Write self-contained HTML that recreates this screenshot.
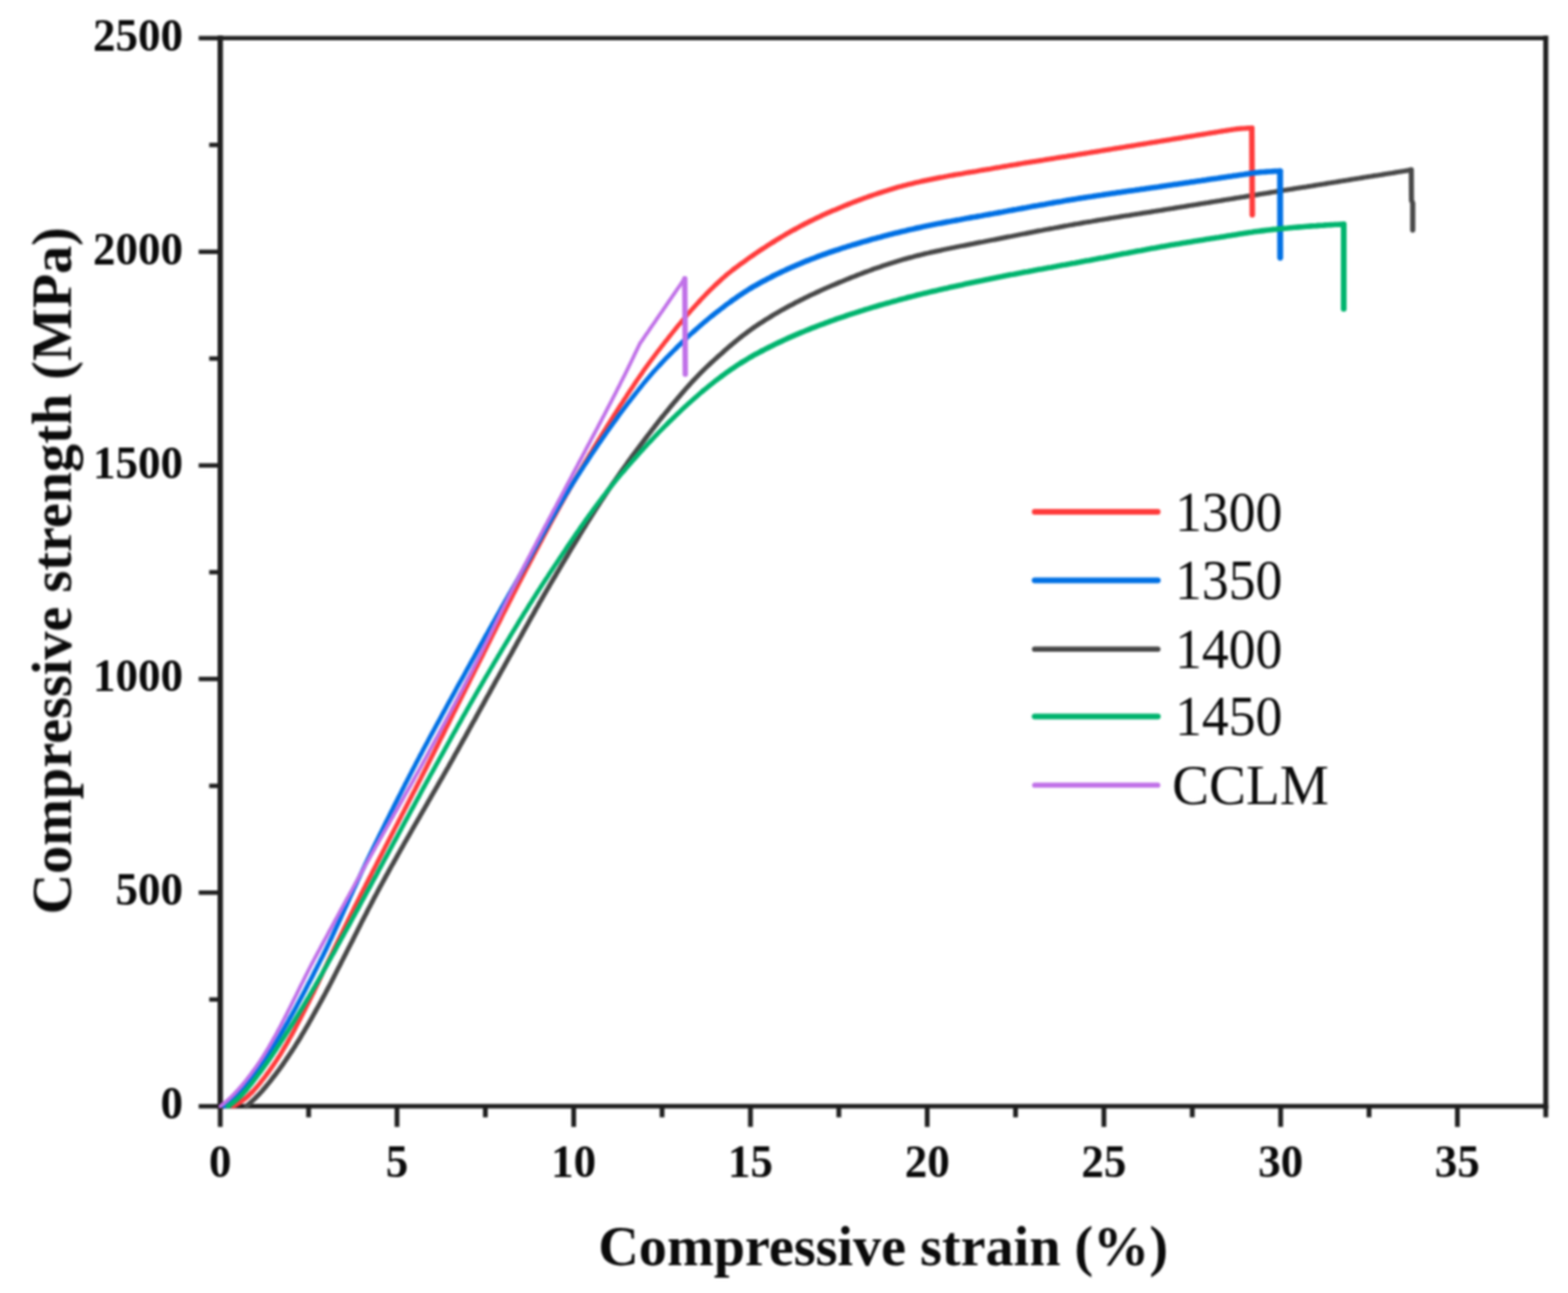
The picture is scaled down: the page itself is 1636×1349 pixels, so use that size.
<!DOCTYPE html>
<html lang="en"><head><meta charset="utf-8"><title>Compressive strength vs compressive strain</title>
<style>
html,body{margin:0;padding:0;background:#fff;}
body{width:1636px;height:1349px;overflow:hidden;}
svg{display:block;}
text{font-family:"Liberation Serif","DejaVu Serif",serif;fill:#0a0a0a;}
.tick{font-weight:bold;font-size:47px;}
.lab{font-weight:bold;font-size:58.6px;}
.leg{font-size:56px;}
</style></head><body>
<svg width="1636" height="1349" viewBox="0 0 1636 1349">
<defs><filter id="soft" x="0" y="0" width="1636" height="1349" filterUnits="userSpaceOnUse" color-interpolation-filters="sRGB"><feGaussianBlur stdDeviation="1.25"/></filter></defs>
<rect width="1636" height="1349" fill="#fff"/>
<g filter="url(#soft)">

<g stroke="#1f1f1f" fill="none" stroke-linecap="square">
<line x1="229.8" y1="39.8" x2="229.8" y2="1154.2" stroke-width="5.6"/>
<line x1="1612.8" y1="39.8" x2="1612.8" y2="1154.2" stroke-width="5.2"/>
<line x1="229.8" y1="39.8" x2="1612.8" y2="39.8" stroke-width="4.6"/>
<line x1="229.8" y1="1154.2" x2="1612.8" y2="1154.2" stroke-width="4.8"/>
</g>
<g stroke="#1f1f1f" fill="none" stroke-linecap="butt">
<line x1="229.8" y1="1154.2" x2="229.8" y2="1175.7" stroke-width="5.0"/>
<line x1="322.0" y1="1154.2" x2="322.0" y2="1165.7" stroke-width="5.0"/>
<line x1="414.2" y1="1154.2" x2="414.2" y2="1175.7" stroke-width="5.0"/>
<line x1="506.4" y1="1154.2" x2="506.4" y2="1165.7" stroke-width="5.0"/>
<line x1="598.6" y1="1154.2" x2="598.6" y2="1175.7" stroke-width="5.0"/>
<line x1="690.8" y1="1154.2" x2="690.8" y2="1165.7" stroke-width="5.0"/>
<line x1="783.0" y1="1154.2" x2="783.0" y2="1175.7" stroke-width="5.0"/>
<line x1="875.2" y1="1154.2" x2="875.2" y2="1165.7" stroke-width="5.0"/>
<line x1="967.4" y1="1154.2" x2="967.4" y2="1175.7" stroke-width="5.0"/>
<line x1="1059.6" y1="1154.2" x2="1059.6" y2="1165.7" stroke-width="5.0"/>
<line x1="1151.8" y1="1154.2" x2="1151.8" y2="1175.7" stroke-width="5.0"/>
<line x1="1244.0" y1="1154.2" x2="1244.0" y2="1165.7" stroke-width="5.0"/>
<line x1="1336.2" y1="1154.2" x2="1336.2" y2="1175.7" stroke-width="5.0"/>
<line x1="1428.4" y1="1154.2" x2="1428.4" y2="1165.7" stroke-width="5.0"/>
<line x1="1520.6" y1="1154.2" x2="1520.6" y2="1175.7" stroke-width="5.0"/>
<line x1="1612.8" y1="1154.2" x2="1612.8" y2="1165.7" stroke-width="5.0"/>
<line x1="229.8" y1="1154.2" x2="207.3" y2="1154.2" stroke-width="4.6"/>
<line x1="229.8" y1="1042.8" x2="218.3" y2="1042.8" stroke-width="4.6"/>
<line x1="229.8" y1="931.3" x2="207.3" y2="931.3" stroke-width="4.6"/>
<line x1="229.8" y1="819.9" x2="218.3" y2="819.9" stroke-width="4.6"/>
<line x1="229.8" y1="708.4" x2="207.3" y2="708.4" stroke-width="4.6"/>
<line x1="229.8" y1="597.0" x2="218.3" y2="597.0" stroke-width="4.6"/>
<line x1="229.8" y1="485.6" x2="207.3" y2="485.6" stroke-width="4.6"/>
<line x1="229.8" y1="374.1" x2="218.3" y2="374.1" stroke-width="4.6"/>
<line x1="229.8" y1="262.7" x2="207.3" y2="262.7" stroke-width="4.6"/>
<line x1="229.8" y1="151.2" x2="218.3" y2="151.2" stroke-width="4.6"/>
<line x1="229.8" y1="39.8" x2="207.3" y2="39.8" stroke-width="4.6"/>
</g>
<clipPath id="plot"><rect x="226.8" y="39.8" width="1386.0" height="1116.8"/></clipPath>
<g fill="none" stroke-linejoin="round" stroke-linecap="round" clip-path="url(#plot)">
<path d="M257.0,1154.2 L258.9,1152.6 L260.8,1150.9 L262.6,1149.2 L264.4,1147.5 L266.3,1145.8 L268.0,1144.0 L269.8,1142.3 L271.5,1140.4 L273.2,1138.6 L274.8,1136.7 L276.4,1134.8 L278.0,1132.9 L279.6,1131.0 L281.2,1129.0 L282.8,1127.1 L284.3,1125.1 L285.8,1123.1 L287.4,1121.1 L288.9,1119.1 L290.4,1117.1 L291.8,1115.1 L293.3,1113.0 L294.8,1111.0 L296.2,1108.9 L297.6,1106.9 L299.0,1104.8 L300.4,1102.8 L301.8,1100.7 L303.2,1098.6 L304.6,1096.5 L305.9,1094.5 L307.3,1092.4 L308.6,1090.3 L309.9,1088.1 L311.3,1086.0 L312.6,1083.9 L313.9,1081.7 L315.1,1079.6 L316.4,1077.4 L317.7,1075.3 L319.0,1073.1 L320.2,1071.0 L321.5,1068.8 L322.7,1066.6 L323.9,1064.4 L325.2,1062.2 L326.4,1060.1 L327.6,1057.9 L328.8,1055.7 L330.0,1053.5 L331.3,1051.3 L332.5,1049.1 L333.7,1046.9 L334.9,1044.7 L336.1,1042.5 L337.3,1040.3 L338.5,1038.1 L339.7,1035.9 L340.8,1033.7 L342.0,1031.5 L343.2,1029.3 L344.3,1027.1 L345.5,1024.9 L346.6,1022.7 L347.8,1020.4 L348.9,1018.2 L350.0,1016.0 L351.2,1013.7 L352.3,1011.5 L353.4,1009.3 L354.6,1007.1 L355.7,1004.8 L356.8,1002.6 L358.0,1000.4 L359.1,998.2 L360.3,995.9 L361.4,993.7 L362.5,991.5 L363.7,989.2 L364.8,987.0 L365.9,984.8 L367.1,982.6 L368.2,980.3 L369.3,978.1 L370.4,975.9 L371.6,973.6 L372.7,971.4 L373.8,969.2 L375.0,966.9 L376.1,964.7 L377.2,962.5 L378.3,960.2 L379.5,958.0 L380.6,955.8 L381.8,953.6 L382.9,951.3 L384.0,949.1 L385.2,946.9 L386.4,944.7 L387.5,942.5 L388.7,940.3 L389.8,938.0 L391.0,935.8 L392.2,933.6 L393.4,931.4 L394.5,929.2 L395.7,927.0 L396.9,924.8 L398.1,922.6 L399.3,920.4 L400.5,918.2 L401.7,916.0 L402.9,913.8 L404.1,911.7 L405.3,909.5 L406.5,907.3 L407.7,905.1 L408.9,902.9 L410.2,900.7 L411.4,898.5 L412.6,896.4 L413.8,894.2 L415.0,892.0 L416.3,889.8 L417.5,887.6 L418.7,885.5 L420.0,883.3 L421.2,881.1 L422.4,878.9 L423.7,876.8 L424.9,874.6 L426.2,872.4 L427.4,870.3 L428.7,868.1 L429.9,865.9 L431.1,863.8 L432.4,861.6 L433.6,859.4 L434.9,857.3 L436.1,855.1 L437.4,852.9 L438.6,850.8 L439.9,848.6 L441.1,846.4 L442.4,844.3 L443.6,842.1 L444.9,839.9 L446.1,837.8 L447.3,835.6 L448.6,833.4 L449.8,831.3 L451.1,829.1 L452.3,826.9 L453.6,824.8 L454.8,822.6 L456.1,820.4 L457.3,818.3 L458.6,816.1 L459.8,813.9 L461.1,811.8 L462.3,809.6 L463.5,807.4 L464.8,805.2 L466.0,803.1 L467.3,800.9 L468.5,798.7 L469.7,796.5 L470.9,794.4 L472.2,792.2 L473.4,790.0 L474.6,787.8 L475.8,785.6 L477.1,783.5 L478.3,781.3 L479.5,779.1 L480.7,776.9 L481.9,774.7 L483.1,772.5 L484.4,770.4 L485.6,768.2 L486.8,766.0 L488.0,763.8 L489.2,761.6 L490.4,759.4 L491.6,757.2 L492.8,755.1 L494.0,752.9 L495.3,750.7 L496.5,748.5 L497.7,746.3 L498.9,744.1 L500.1,741.9 L501.3,739.7 L502.5,737.5 L503.7,735.4 L504.9,733.2 L506.1,731.0 L507.3,728.8 L508.5,726.6 L509.8,724.4 L511.0,722.2 L512.2,720.0 L513.4,717.8 L514.6,715.7 L515.8,713.5 L517.0,711.3 L518.2,709.1 L519.5,706.9 L520.7,704.7 L521.9,702.6 L523.1,700.4 L524.3,698.2 L525.6,696.0 L526.8,693.8 L528.0,691.6 L529.2,689.5 L530.4,687.3 L531.6,685.1 L532.9,682.9 L534.1,680.7 L535.3,678.5 L536.5,676.3 L537.7,674.2 L538.9,672.0 L540.1,669.8 L541.4,667.6 L542.6,665.4 L543.8,663.2 L545.0,661.0 L546.2,658.8 L547.4,656.7 L548.6,654.5 L549.9,652.3 L551.1,650.1 L552.3,647.9 L553.5,645.7 L554.7,643.6 L556.0,641.4 L557.2,639.2 L558.4,637.0 L559.6,634.8 L560.9,632.7 L562.1,630.5 L563.3,628.3 L564.6,626.2 L565.8,624.0 L567.1,621.8 L568.3,619.6 L569.6,617.5 L570.8,615.3 L572.1,613.2 L573.3,611.0 L574.6,608.8 L575.8,606.7 L577.1,604.5 L578.4,602.4 L579.7,600.2 L580.9,598.1 L582.2,595.9 L583.5,593.8 L584.8,591.6 L586.0,589.5 L587.3,587.3 L588.6,585.2 L589.9,583.0 L591.2,580.9 L592.5,578.7 L593.7,576.6 L595.0,574.4 L596.3,572.3 L597.6,570.2 L598.9,568.0 L600.2,565.9 L601.5,563.7 L602.8,561.6 L604.1,559.4 L605.4,557.3 L606.7,555.2 L608.0,553.0 L609.3,550.9 L610.7,548.8 L612.0,546.6 L613.3,544.5 L614.6,542.4 L616.0,540.3 L617.3,538.2 L618.6,536.0 L620.0,533.9 L621.3,531.8 L622.7,529.7 L624.0,527.6 L625.4,525.5 L626.7,523.4 L628.1,521.3 L629.5,519.3 L630.9,517.2 L632.2,515.1 L633.6,513.0 L635.0,510.9 L636.4,508.9 L637.8,506.8 L639.2,504.8 L640.6,502.7 L642.1,500.7 L643.5,498.6 L644.9,496.6 L646.4,494.5 L647.8,492.5 L649.2,490.5 L650.7,488.4 L652.1,486.4 L653.6,484.4 L655.0,482.3 L656.5,480.3 L658.0,478.3 L659.4,476.3 L660.9,474.2 L662.4,472.2 L663.9,470.2 L665.4,468.2 L666.9,466.2 L668.4,464.2 L669.9,462.2 L671.4,460.2 L672.9,458.2 L674.4,456.2 L675.9,454.2 L677.5,452.2 L679.0,450.2 L680.5,448.2 L682.1,446.2 L683.6,444.2 L685.2,442.3 L686.7,440.3 L688.3,438.3 L689.8,436.4 L691.4,434.4 L693.0,432.5 L694.6,430.5 L696.2,428.6 L697.7,426.7 L699.3,424.7 L700.9,422.8 L702.5,420.9 L704.1,419.0 L705.8,417.1 L707.4,415.2 L709.0,413.3 L710.6,411.4 L712.3,409.5 L713.9,407.6 L715.6,405.7 L717.2,403.9 L718.9,402.0 L720.5,400.2 L722.2,398.3 L723.9,396.5 L725.6,394.7 L727.3,392.9 L729.1,391.1 L730.8,389.3 L732.6,387.5 L734.4,385.7 L736.2,384.0 L738.0,382.3 L739.8,380.6 L741.6,378.9 L743.5,377.2 L745.3,375.5 L747.2,373.8 L749.0,372.1 L750.9,370.5 L752.8,368.8 L754.7,367.1 L756.5,365.4 L758.4,363.8 L760.3,362.2 L762.3,360.5 L764.2,358.9 L766.1,357.3 L768.1,355.7 L770.0,354.1 L772.0,352.5 L773.9,351.0 L775.9,349.4 L777.9,347.9 L779.9,346.4 L781.9,345.0 L783.9,343.5 L785.9,342.1 L788.0,340.7 L790.0,339.3 L792.1,337.9 L794.2,336.6 L796.2,335.3 L798.3,333.9 L800.5,332.6 L802.6,331.3 L804.7,330.0 L806.9,328.7 L809.0,327.4 L811.2,326.2 L813.4,324.9 L815.5,323.7 L817.7,322.5 L819.9,321.2 L822.1,320.0 L824.4,318.8 L826.6,317.7 L828.8,316.5 L831.0,315.3 L833.3,314.2 L835.5,313.0 L837.8,311.9 L840.0,310.8 L842.3,309.7 L844.6,308.6 L846.8,307.5 L849.1,306.5 L851.3,305.4 L853.6,304.4 L855.9,303.3 L858.2,302.3 L860.4,301.3 L862.7,300.3 L865.0,299.3 L867.3,298.3 L869.5,297.3 L871.8,296.4 L874.1,295.4 L876.4,294.4 L878.8,293.5 L881.1,292.5 L883.4,291.5 L885.7,290.6 L888.0,289.7 L890.4,288.7 L892.7,287.8 L895.0,286.9 L897.4,286.0 L899.7,285.1 L902.1,284.2 L904.4,283.3 L906.8,282.5 L909.2,281.6 L911.5,280.7 L913.9,279.9 L916.3,279.1 L918.6,278.3 L921.0,277.4 L923.4,276.6 L925.8,275.9 L928.1,275.1 L930.5,274.3 L932.9,273.6 L935.3,272.8 L937.7,272.1 L940.1,271.4 L942.5,270.7 L944.9,270.0 L947.3,269.3 L949.7,268.7 L952.1,268.1 L954.5,267.4 L956.9,266.8 L959.3,266.2 L961.7,265.6 L964.1,265.0 L966.5,264.4 L969.0,263.9 L971.4,263.3 L973.8,262.8 L976.3,262.2 L978.7,261.7 L981.2,261.2 L983.6,260.6 L986.1,260.1 L988.5,259.6 L991.0,259.1 L993.4,258.6 L995.9,258.1 L998.3,257.6 L1000.8,257.1 L1003.2,256.6 L1005.7,256.2 L1008.2,255.7 L1010.6,255.2 L1013.1,254.7 L1015.6,254.3 L1018.0,253.8 L1020.5,253.3 L1022.9,252.8 L1025.4,252.4 L1027.9,251.9 L1030.3,251.4 L1032.8,250.9 L1035.2,250.4 L1037.7,250.0 L1040.1,249.5 L1042.6,249.0 L1045.0,248.5 L1047.5,248.0 L1049.9,247.5 L1052.4,247.0 L1054.8,246.6 L1057.3,246.1 L1059.8,245.6 L1062.2,245.1 L1064.7,244.6 L1067.1,244.1 L1069.6,243.7 L1072.0,243.2 L1074.5,242.7 L1076.9,242.2 L1079.4,241.8 L1081.8,241.3 L1084.3,240.8 L1086.8,240.4 L1089.2,239.9 L1091.7,239.4 L1094.1,239.0 L1096.6,238.5 L1099.0,238.1 L1101.5,237.6 L1104.0,237.2 L1106.4,236.7 L1108.9,236.3 L1111.3,235.8 L1113.8,235.4 L1116.3,234.9 L1118.7,234.5 L1121.2,234.0 L1123.6,233.6 L1126.1,233.2 L1128.6,232.7 L1131.0,232.3 L1133.5,231.9 L1136.0,231.5 L1138.4,231.1 L1140.9,230.6 L1143.4,230.2 L1145.8,229.8 L1148.3,229.4 L1150.8,229.0 L1153.2,228.6 L1155.7,228.2 L1158.2,227.8 L1160.6,227.4 L1163.1,227.0 L1165.6,226.6 L1168.0,226.2 L1170.5,225.8 L1173.0,225.4 L1175.4,225.0 L1177.9,224.7 L1180.4,224.3 L1182.8,223.9 L1185.3,223.5 L1187.8,223.1 L1190.3,222.7 L1192.7,222.3 L1195.2,221.9 L1197.7,221.6 L1200.1,221.2 L1202.6,220.8 L1205.1,220.4 L1207.5,220.0 L1210.0,219.6 L1212.5,219.2 L1215.0,218.8 L1217.4,218.4 L1219.9,218.0 L1222.4,217.6 L1224.8,217.2 L1227.3,216.8 L1229.8,216.4 L1232.2,216.0 L1234.7,215.6 L1237.2,215.2 L1239.6,214.8 L1242.1,214.4 L1244.6,214.0 L1247.0,213.6 L1249.5,213.2 L1252.0,212.8 L1254.4,212.4 L1256.9,212.0 L1259.4,211.6 L1261.8,211.2 L1264.3,210.8 L1266.8,210.4 L1269.2,210.0 L1271.7,209.6 L1274.2,209.2 L1276.6,208.8 L1279.1,208.4 L1281.6,208.0 L1284.0,207.6 L1286.5,207.2 L1289.0,206.8 L1291.5,206.4 L1293.9,206.0 L1296.4,205.6 L1298.9,205.2 L1301.3,204.8 L1303.8,204.4 L1306.3,204.0 L1308.7,203.6 L1311.2,203.2 L1313.7,202.8 L1316.1,202.4 L1318.6,202.0 L1321.1,201.6 L1323.5,201.2 L1326.0,200.8 L1328.5,200.4 L1330.9,200.0 L1333.4,199.6 L1335.9,199.2 L1338.3,198.8 L1340.8,198.4 L1343.3,198.0 L1345.7,197.6 L1348.2,197.2 L1350.7,196.8 L1353.2,196.4 L1355.6,196.0 L1358.1,195.6 L1360.6,195.2 L1363.0,194.9 L1365.5,194.5 L1368.0,194.1 L1370.4,193.7 L1372.9,193.3 L1375.4,192.9 L1377.8,192.5 L1380.3,192.1 L1382.8,191.7 L1385.2,191.3 L1387.7,190.9 L1390.2,190.5 L1392.6,190.1 L1395.1,189.7 L1397.6,189.3 L1400.0,188.9 L1402.5,188.5 L1405.0,188.1 L1407.5,187.7 L1409.9,187.3 L1412.4,186.9 L1414.9,186.5 L1417.3,186.1 L1419.8,185.7 L1422.3,185.3 L1424.7,184.9 L1427.2,184.5 L1429.7,184.1 L1432.1,183.7 L1434.6,183.3 L1437.1,183.0 L1439.5,182.6 L1442.0,182.2 L1444.5,181.8 L1446.9,181.4 L1449.4,181.0 L1451.9,180.6 L1454.4,180.2 L1456.8,179.8 L1459.3,179.4 L1461.8,179.0 L1464.2,178.6 L1466.7,178.2 L1469.2,177.8 L1471.6,177.3 L1472.5,177.2" stroke="#484848" stroke-width="5.00"/>
<path d="M1472.5,177.2 L1472.7,209.0 L1474.0,212.0 L1474.0,240.0" stroke="#484848" stroke-width="5.4"/>
<path d="M243.0,1154.2 L245.2,1153.0 L247.4,1151.8 L249.6,1150.5 L251.6,1149.1 L253.7,1147.7 L255.6,1146.2 L257.6,1144.6 L259.4,1142.9 L261.2,1141.1 L263.0,1139.4" stroke="#ff3b3b" stroke-width="5.00"/>
<path d="M263.0,1139.4 L264.7,1137.6 L266.4,1135.7 L268.1,1133.9 L269.7,1131.9 L271.3,1130.0 L272.8,1128.0 L274.4,1126.1 L275.9,1124.1 L277.4,1122.1 L278.9,1120.1" stroke="#ff3b3b" stroke-width="4.72"/>
<path d="M278.9,1120.1 L280.4,1118.1 L281.8,1116.0 L283.3,1114.0 L284.7,1111.9 L286.1,1109.9 L287.5,1107.8 L288.9,1105.7 L290.2,1103.6 L291.6,1101.5 L292.9,1099.4 L294.2,1097.2 L295.5,1095.1 L296.7,1093.0 L298.0,1090.8 L299.3,1088.7 L300.5,1086.5 L301.7,1084.3 L303.0,1082.1 L304.2,1080.0 L305.4,1077.8 L306.6,1075.6 L307.8,1073.4 L308.9,1071.1 L310.1,1068.9 L311.3,1066.7 L312.4,1064.5 L313.6,1062.3 L314.7,1060.0 L315.9,1057.8 L317.0,1055.6 L318.2,1053.4 L319.3,1051.1 L320.4,1048.9 L321.6,1046.7 L322.7,1044.4 L323.8,1042.2 L324.9,1039.9 L326.0,1037.7 L327.2,1035.5 L328.2,1033.2 L329.3,1031.0 L330.4,1028.7 L331.5,1026.5 L332.5,1024.2 L333.6,1021.9 L334.6,1019.7 L335.7,1017.4 L336.8,1015.1 L337.8,1012.9 L338.9,1010.6 L339.9,1008.3 L341.0,1006.1 L342.0,1003.8 L343.1,1001.5 L344.2,999.3 L345.3,997.0 L346.4,994.8 L347.4,992.5 L348.5,990.3 L349.6,988.0 L350.7,985.8 L351.8,983.5 L352.9,981.3 L354.0,979.0 L355.1,976.8 L356.2,974.5 L357.3,972.3 L358.4,970.0 L359.5,967.8 L360.6,965.5 L361.7,963.3 L362.8,961.1 L363.9,958.8 L365.0,956.6 L366.1,954.3 L367.2,952.1 L368.3,949.9 L369.4,947.6 L370.5,945.4 L371.7,943.1 L372.8,940.9 L373.9,938.7 L375.0,936.4 L376.1,934.2 L377.3,932.0 L378.4,929.7 L379.5,927.5 L380.7,925.3 L381.8,923.1 L382.9,920.8 L384.1,918.6 L385.2,916.4 L386.4,914.2 L387.5,911.9 L388.6,909.7 L389.8,907.5 L390.9,905.3 L392.1,903.0 L393.2,900.8 L394.3,898.6 L395.5,896.4 L396.6,894.1 L397.8,891.9 L398.9,889.7 L400.1,887.5 L401.2,885.2 L402.3,883.0 L403.5,880.8 L404.6,878.6 L405.8,876.4 L406.9,874.1 L408.1,871.9 L409.2,869.7 L410.4,867.5 L411.5,865.3 L412.7,863.0 L413.8,860.8 L415.0,858.6 L416.1,856.4 L417.3,854.2 L418.4,851.9 L419.6,849.7 L420.7,847.5 L421.9,845.3 L423.0,843.1 L424.2,840.8 L425.3,838.6 L426.5,836.4 L427.6,834.2 L428.8,832.0 L429.9,829.7 L431.1,827.5 L432.2,825.3 L433.4,823.1 L434.5,820.9 L435.7,818.6 L436.8,816.4 L438.0,814.2 L439.1,812.0 L440.2,809.7 L441.4,807.5 L442.5,805.3 L443.6,803.1 L444.8,800.8 L445.9,798.6 L447.0,796.4 L448.2,794.1 L449.3,791.9 L450.4,789.7 L451.6,787.4 L452.7,785.2 L453.8,783.0 L454.9,780.7 L456.1,778.5 L457.2,776.3 L458.3,774.0 L459.4,771.8 L460.5,769.6 L461.7,767.3 L462.8,765.1 L463.9,762.9 L465.0,760.6 L466.1,758.4 L467.3,756.2 L468.4,753.9 L469.5,751.7 L470.6,749.5 L471.7,747.2 L472.8,745.0 L473.9,742.7 L475.1,740.5 L476.2,738.3 L477.3,736.0 L478.4,733.8 L479.5,731.6 L480.6,729.3 L481.8,727.1 L482.9,724.8 L484.0,722.6 L485.1,720.4 L486.2,718.1 L487.4,715.9 L488.5,713.7 L489.6,711.4 L490.7,709.2 L491.8,707.0 L493.0,704.7 L494.1,702.5 L495.2,700.3 L496.3,698.0 L497.4,695.8 L498.6,693.6 L499.7,691.3 L500.8,689.1 L501.9,686.9 L503.1,684.6 L504.2,682.4 L505.3,680.1 L506.4,677.9 L507.5,675.7 L508.6,673.4 L509.8,671.2 L510.9,669.0 L512.0,666.7 L513.1,664.5 L514.2,662.3 L515.4,660.0 L516.5,657.8 L517.6,655.5 L518.7,653.3 L519.8,651.1 L521.0,648.8 L522.1,646.6 L523.2,644.4 L524.3,642.1 L525.4,639.9 L526.6,637.7 L527.7,635.4 L528.8,633.2 L530.0,631.0 L531.1,628.8 L532.2,626.5 L533.4,624.3 L534.5,622.1 L535.6,619.8 L536.8,617.6 L537.9,615.4 L539.1,613.2 L540.2,611.0 L541.4,608.7 L542.5,606.5 L543.7,604.3 L544.8,602.1 L546.0,599.9 L547.1,597.7 L548.3,595.4 L549.4,593.2 L550.6,591.0 L551.8,588.8 L552.9,586.6 L554.1,584.4 L555.3,582.2 L556.4,579.9 L557.6,577.7 L558.8,575.5 L559.9,573.3 L561.1,571.1 L562.3,568.9 L563.4,566.7 L564.6,564.5 L565.8,562.2 L567.0,560.0 L568.1,557.8 L569.3,555.6 L570.5,553.4 L571.7,551.2 L572.9,549.0 L574.0,546.8 L575.2,544.6 L576.4,542.4 L577.6,540.2 L578.8,538.0 L580.0,535.8 L581.2,533.6 L582.4,531.4 L583.6,529.3 L584.8,527.1 L586.1,524.9 L587.3,522.7 L588.5,520.5 L589.7,518.3 L590.9,516.2 L592.2,514.0 L593.4,511.8 L594.6,509.6 L595.9,507.5 L597.1,505.3 L598.4,503.1 L599.6,501.0 L600.9,498.8 L602.1,496.7 L603.4,494.5 L604.6,492.3 L605.9,490.2 L607.2,488.0 L608.4,485.9 L609.7,483.7 L611.0,481.6 L612.3,479.4 L613.6,477.3 L614.8,475.1 L616.1,473.0 L617.4,470.9 L618.7,468.7 L620.0,466.6 L621.3,464.4 L622.6,462.3 L623.9,460.2 L625.2,458.0 L626.5,455.9 L627.8,453.8 L629.2,451.6 L630.5,449.5 L631.8,447.4 L633.1,445.3 L634.5,443.1 L635.8,441.0 L637.1,438.9 L638.5,436.8 L639.8,434.7 L641.1,432.6 L642.5,430.5 L643.8,428.4 L645.2,426.3 L646.5,424.1 L647.9,422.0 L649.3,420.0 L650.6,417.9 L652.0,415.8 L653.4,413.7 L654.7,411.6 L656.1,409.5 L657.5,407.4 L658.9,405.3 L660.3,403.3 L661.6,401.2 L663.0,399.1 L664.4,397.0 L665.8,395.0 L667.3,392.9 L668.7,390.8 L670.1,388.8 L671.5,386.7 L673.0,384.7 L674.4,382.6 L675.9,380.6 L677.3,378.6 L678.8,376.6 L680.3,374.6 L681.8,372.6 L683.3,370.6 L684.8,368.6 L686.3,366.6 L687.9,364.6 L689.4,362.7 L690.9,360.7 L692.5,358.7 L694.0,356.7 L695.6,354.8 L697.1,352.8 L698.7,350.8 L700.2,348.9 L701.8,346.9 L703.4,344.9 L704.9,343.0 L706.5,341.0 L708.1,339.1 L709.7,337.2 L711.3,335.2 L712.9,333.3 L714.6,331.4 L716.2,329.5 L717.8,327.6 L719.5,325.7 L721.1,323.8 L722.8,321.9 L724.4,320.1 L726.1,318.2 L727.8,316.4 L729.5,314.5" stroke="#ff3b3b" stroke-width="4.70"/>
<path d="M729.5,314.5 L731.2,312.7 L732.9,310.9 L734.6,309.1 L736.3,307.3 L738.1,305.5 L739.8,303.8 L741.6,302.0 L743.4,300.3 L745.2,298.5 L747.0,296.8" stroke="#ff3b3b" stroke-width="4.78"/>
<path d="M747.0,296.8 L748.8,295.1 L750.7,293.4 L752.5,291.7 L754.4,290.0 L756.3,288.4 L758.2,286.7 L760.1,285.1 L762.1,283.6 L764.0,282.0 L766.0,280.5" stroke="#ff3b3b" stroke-width="4.90"/>
<path d="M766.0,280.5 L768.0,279.0 L770.0,277.6 L772.0,276.1 L774.0,274.6 L776.0,273.2 L778.0,271.7 L780.0,270.3 L782.1,268.8 L784.1,267.4 L786.2,266.0" stroke="#ff3b3b" stroke-width="5.04"/>
<path d="M786.2,266.0 L788.3,264.5 L790.4,263.1 L792.5,261.7 L794.5,260.3 L796.7,259.0 L798.8,257.6 L800.9,256.2 L803.0,254.8 L805.1,253.5 L807.3,252.2" stroke="#ff3b3b" stroke-width="5.10"/>
<path d="M807.3,252.2 L809.4,250.8 L811.6,249.5 L813.7,248.2 L815.9,246.9 L818.1,245.6 L820.2,244.3 L822.4,243.1 L824.6,241.8 L826.8,240.6 L829.0,239.4" stroke="#ff3b3b" stroke-width="5.16"/>
<path d="M829.0,239.4 L831.2,238.2 L833.4,237.0 L835.6,235.8 L837.8,234.6 L840.1,233.4 L842.3,232.3 L844.5,231.2 L846.7,230.1 L849.0,229.0 L851.2,227.9 L853.4,226.8 L855.7,225.8 L857.9,224.7 L860.2,223.7 L862.4,222.7 L864.7,221.7 L867.0,220.7 L869.2,219.7 L871.5,218.8 L873.8,217.8 L876.1,216.8 L878.4,215.9 L880.7,214.9 L883.0,214.0 L885.4,213.0 L887.7,212.1 L890.0,211.2 L892.4,210.3 L894.7,209.4 L897.1,208.5 L899.5,207.6 L901.8,206.7 L904.2,205.9 L906.6,205.0 L908.9,204.2 L911.3,203.4 L913.7,202.6 L916.1,201.8 L918.5,201.0 L920.9,200.2 L923.3,199.4 L925.7,198.7 L928.1,197.9 L930.5,197.2 L932.9,196.5 L935.3,195.8 L937.7,195.1 L940.1,194.5 L942.5,193.8 L944.9,193.2 L947.3,192.6 L949.7,192.0 L952.1,191.4 L954.5,190.8 L957.0,190.2 L959.4,189.7 L961.8,189.1 L964.2,188.6 L966.7,188.1 L969.1,187.6 L971.6,187.1 L974.0,186.6 L976.5,186.1 L978.9,185.6 L981.4,185.1 L983.8,184.7 L986.3,184.2 L988.7,183.8 L991.2,183.3 L993.7,182.9 L996.1,182.4 L998.6,182.0 L1001.1,181.6 L1003.6,181.2 L1006.0,180.7 L1008.5,180.3 L1011.0,179.9 L1013.5,179.5 L1015.9,179.1 L1018.4,178.7 L1020.9,178.2 L1023.3,177.8 L1025.8,177.4 L1028.3,177.0 L1030.8,176.6 L1033.2,176.2 L1035.7,175.7 L1038.2,175.3 L1040.6,174.9 L1043.1,174.5 L1045.5,174.0 L1048.0,173.6 L1050.5,173.2 L1052.9,172.8 L1055.4,172.4 L1057.9,172.0 L1060.3,171.6 L1062.8,171.1 L1065.3,170.7 L1067.7,170.3 L1070.2,169.9 L1072.7,169.5 L1075.1,169.1 L1077.6,168.7 L1080.1,168.4 L1082.6,168.0 L1085.0,167.6 L1087.5,167.2 L1090.0,166.8 L1092.4,166.4 L1094.9,166.0 L1097.4,165.6 L1099.8,165.2 L1102.3,164.8 L1104.8,164.4 L1107.2,164.0 L1109.7,163.6 L1112.2,163.3 L1114.7,162.9 L1117.1,162.5 L1119.6,162.1 L1122.1,161.7 L1124.5,161.3 L1127.0,160.9 L1129.5,160.5 L1131.9,160.1 L1134.4,159.7 L1136.9,159.3 L1139.3,158.9 L1141.8,158.5 L1144.3,158.1 L1146.7,157.7 L1149.2,157.3 L1151.7,156.9 L1154.1,156.5 L1156.6,156.1 L1159.1,155.7 L1161.5,155.3 L1164.0,154.9 L1166.5,154.5 L1168.9,154.1 L1171.4,153.7 L1173.9,153.3 L1176.3,152.9 L1178.8,152.5 L1181.3,152.1 L1183.8,151.7 L1186.2,151.3 L1188.7,150.9 L1191.2,150.5 L1193.6,150.1 L1196.1,149.7 L1198.6,149.3 L1201.0,148.9 L1203.5,148.5 L1206.0,148.1 L1208.4,147.7 L1210.9,147.3 L1213.4,146.9 L1215.8,146.5 L1218.3,146.1 L1220.8,145.7 L1223.2,145.3 L1225.7,144.9 L1228.2,144.5 L1230.6,144.1 L1233.1,143.7 L1235.6,143.3 L1238.0,142.9 L1240.5,142.5 L1243.0,142.1 L1245.5,141.7 L1247.9,141.3 L1250.4,140.9 L1252.9,140.5 L1255.3,140.1 L1257.8,139.7 L1260.3,139.3 L1262.7,138.9 L1265.2,138.5 L1267.7,138.1 L1270.1,137.7 L1272.6,137.3 L1275.1,136.9 L1277.5,136.5 L1280.0,136.1 L1282.5,135.7 L1284.9,135.3 L1287.4,135.0 L1289.9,134.7 L1292.4,134.4 L1294.9,134.2 L1297.4,134.0 L1299.9,133.8 L1302.4,133.7 L1304.9,133.6 L1306.1,133.6" stroke="#ff3b3b" stroke-width="5.20"/>
<path d="M1306.1,133.6 L1306.6,224.1" stroke="#ff3b3b" stroke-width="5.8"/>
<path d="M234.4,1154.2 L236.5,1152.8 L238.5,1151.2 L240.4,1149.7 L242.4,1148.1 L244.2,1146.5 L246.0,1144.8 L247.8,1143.0 L249.5,1141.2 L251.2,1139.3 L252.9,1137.5" stroke="#0070e4" stroke-width="5.04"/>
<path d="M252.9,1137.5 L254.5,1135.6 L256.1,1133.6 L257.7,1131.7 L259.2,1129.7 L260.7,1127.7 L262.2,1125.7 L263.7,1123.7 L265.2,1121.7 L266.7,1119.7 L268.1,1117.7" stroke="#0070e4" stroke-width="4.71"/>
<path d="M268.1,1117.7 L269.6,1115.6 L271.1,1113.6 L272.5,1111.5 L273.9,1109.5 L275.3,1107.4 L276.7,1105.3 L278.1,1103.2 L279.4,1101.1 L280.8,1099.0 L282.1,1096.9 L283.4,1094.8 L284.7,1092.7 L286.0,1090.6 L287.3,1088.4 L288.6,1086.3 L289.9,1084.2 L291.2,1082.0 L292.5,1079.9 L293.7,1077.7 L295.0,1075.5 L296.2,1073.4 L297.5,1071.2 L298.7,1069.0 L300.0,1066.9 L301.2,1064.7 L302.4,1062.5 L303.6,1060.3 L304.9,1058.1 L306.1,1055.9 L307.3,1053.8 L308.5,1051.6 L309.7,1049.4 L310.9,1047.2 L312.1,1044.9 L313.3,1042.7 L314.4,1040.5 L315.6,1038.3 L316.8,1036.1 L318.0,1033.9 L319.1,1031.7 L320.3,1029.5 L321.4,1027.2 L322.6,1025.0 L323.8,1022.8 L324.9,1020.6 L326.1,1018.3 L327.2,1016.1 L328.3,1013.9 L329.5,1011.7 L330.6,1009.4 L331.8,1007.2 L332.9,1005.0 L334.0,1002.8 L335.1,1000.5 L336.3,998.3 L337.4,996.1 L338.5,993.8 L339.6,991.6 L340.7,989.4 L341.8,987.1 L342.9,984.9 L343.9,982.6 L345.0,980.3 L346.1,978.1 L347.1,975.8 L348.2,973.6 L349.2,971.3 L350.3,969.0 L351.3,966.8 L352.4,964.5 L353.4,962.2 L354.5,959.9 L355.5,957.7 L356.5,955.4 L357.6,953.1 L358.6,950.8 L359.6,948.5 L360.7,946.3 L361.7,944.0 L362.7,941.7 L363.8,939.4 L364.8,937.1 L365.8,934.9 L366.9,932.6 L367.9,930.3 L368.9,928.0 L370.0,925.8 L371.0,923.5 L372.1,921.2 L373.1,918.9 L374.1,916.7 L375.2,914.4 L376.3,912.1 L377.3,909.9 L378.4,907.6 L379.5,905.4 L380.5,903.1 L381.6,900.8 L382.7,898.6 L383.8,896.3 L384.9,894.1 L386.0,891.8 L387.1,889.6 L388.2,887.4 L389.3,885.1 L390.4,882.9 L391.5,880.6 L392.6,878.4 L393.7,876.1 L394.8,873.9 L395.9,871.6 L397.0,869.4 L398.1,867.2 L399.2,864.9 L400.3,862.7 L401.4,860.4 L402.5,858.2 L403.7,856.0 L404.8,853.7 L405.9,851.5 L407.0,849.2 L408.1,847.0 L409.3,844.8 L410.4,842.5 L411.5,840.3 L412.6,838.1 L413.8,835.8 L414.9,833.6 L416.0,831.4 L417.2,829.2 L418.3,826.9 L419.4,824.7 L420.6,822.5 L421.7,820.3 L422.8,818.0 L424.0,815.8 L425.1,813.6 L426.3,811.4 L427.4,809.1 L428.6,806.9 L429.7,804.7 L430.9,802.5 L432.0,800.3 L433.2,798.1 L434.3,795.8 L435.5,793.6 L436.7,791.4 L437.8,789.2 L439.0,787.0 L440.2,784.8 L441.3,782.6 L442.5,780.4 L443.7,778.2 L444.9,776.0 L446.1,773.8 L447.2,771.6 L448.4,769.4 L449.6,767.2 L450.8,765.0 L452.0,762.8 L453.2,760.6 L454.4,758.4 L455.6,756.2 L456.8,754.0 L458.0,751.8 L459.2,749.6 L460.4,747.4 L461.6,745.2 L462.8,743.0 L464.0,740.8 L465.2,738.6 L466.4,736.4 L467.6,734.2 L468.8,732.0 L470.0,729.8 L471.2,727.7 L472.4,725.5 L473.6,723.3 L474.8,721.1 L476.0,718.9 L477.2,716.7 L478.4,714.5 L479.6,712.3 L480.9,710.1 L482.1,708.0 L483.3,705.8 L484.5,703.6 L485.7,701.4 L486.9,699.2 L488.1,697.0 L489.3,694.8 L490.5,692.6 L491.7,690.5 L492.9,688.3 L494.2,686.1 L495.4,683.9 L496.6,681.7 L497.8,679.5 L499.0,677.3 L500.2,675.1 L501.4,673.0 L502.7,670.8 L503.9,668.6 L505.1,666.4 L506.3,664.2 L507.5,662.0 L508.8,659.9 L510.0,657.7 L511.2,655.5 L512.4,653.3 L513.6,651.1 L514.9,649.0 L516.1,646.8 L517.3,644.6 L518.5,642.4 L519.8,640.2 L521.0,638.1 L522.2,635.9 L523.4,633.7 L524.7,631.5 L525.9,629.4 L527.1,627.2 L528.4,625.0 L529.6,622.8 L530.8,620.6 L532.1,618.5 L533.3,616.3 L534.5,614.1 L535.8,611.9 L537.0,609.8 L538.2,607.6 L539.5,605.4 L540.7,603.3 L541.9,601.1 L543.2,598.9 L544.4,596.7 L545.6,594.6 L546.9,592.4 L548.1,590.2 L549.3,588.0 L550.5,585.8 L551.8,583.7 L553.0,581.5 L554.2,579.3 L555.4,577.1 L556.7,574.9 L557.9,572.7 L559.1,570.5 L560.3,568.4 L561.5,566.2 L562.8,564.0 L564.0,561.8 L565.2,559.6 L566.4,557.4 L567.7,555.3 L568.9,553.1 L570.1,550.9 L571.4,548.7 L572.6,546.5 L573.8,544.4 L575.1,542.2 L576.3,540.0 L577.6,537.9 L578.8,535.7 L580.1,533.5 L581.3,531.4 L582.6,529.2 L583.9,527.1 L585.1,524.9 L586.4,522.8 L587.7,520.6 L589.0,518.5 L590.3,516.3 L591.6,514.2 L592.9,512.1 L594.2,509.9 L595.5,507.8 L596.8,505.7 L598.1,503.6 L599.5,501.5 L600.8,499.4 L602.2,497.3 L603.5,495.2 L604.9,493.1 L606.2,491.0 L607.6,488.9 L608.9,486.8 L610.3,484.7 L611.7,482.6 L613.1,480.6 L614.4,478.5 L615.8,476.4 L617.2,474.3 L618.6,472.2 L620.0,470.1 L621.4,468.1 L622.8,466.0 L624.2,463.9 L625.6,461.8 L627.1,459.8 L628.5,457.7 L629.9,455.7 L631.3,453.6 L632.8,451.5 L634.2,449.5 L635.7,447.4 L637.1,445.4 L638.6,443.4 L640.0,441.3 L641.5,439.3 L643.0,437.3 L644.5,435.2 L645.9,433.2 L647.4,431.2 L648.9,429.2 L650.4,427.2 L651.9,425.2 L653.4,423.2 L654.9,421.2 L656.4,419.2 L658.0,417.2 L659.5,415.2 L661.0,413.3 L662.6,411.3 L664.1,409.4 L665.7,407.4 L667.2,405.4 L668.8,403.5 L670.3,401.6 L671.9,399.6 L673.5,397.7 L675.1,395.8 L676.7,393.9 L678.3,392.0 L680.0,390.1 L681.6,388.2 L683.3,386.4 L685.0,384.5 L686.7,382.7 L688.4,380.8" stroke="#0070e4" stroke-width="4.70"/>
<path d="M688.4,380.8 L690.1,379.0 L691.8,377.2 L693.5,375.3 L695.2,373.5 L697.0,371.8 L698.7,370.0 L700.5,368.2 L702.3,366.4 L704.0,364.7 L705.8,362.9" stroke="#0070e4" stroke-width="4.84"/>
<path d="M705.8,362.9 L707.6,361.1 L709.4,359.4 L711.2,357.6 L713.0,355.9 L714.8,354.2 L716.6,352.4 L718.4,350.7 L720.3,349.0 L722.1,347.3 L724.0,345.6" stroke="#0070e4" stroke-width="4.94"/>
<path d="M724.0,345.6 L725.8,344.0 L727.7,342.3 L729.6,340.6 L731.5,339.0 L733.4,337.4 L735.3,335.8 L737.2,334.2 L739.1,332.6 L741.0,331.0 L743.0,329.5" stroke="#0070e4" stroke-width="5.11"/>
<path d="M743.0,329.5 L744.9,327.9 L746.9,326.4 L748.9,324.8 L750.9,323.3 L752.8,321.8 L754.8,320.3 L756.9,318.7 L758.9,317.2 L760.9,315.8 L762.9,314.3" stroke="#0070e4" stroke-width="5.28"/>
<path d="M762.9,314.3 L765.0,312.8 L767.0,311.4 L769.1,309.9 L771.2,308.5 L773.3,307.1 L775.4,305.7 L777.5,304.4 L779.6,303.0 L781.7,301.7 L783.8,300.4" stroke="#0070e4" stroke-width="5.49"/>
<path d="M783.8,300.4 L785.9,299.1 L788.1,297.9 L790.2,296.7 L792.4,295.5 L794.6,294.3 L796.8,293.1 L799.0,292.0 L801.2,290.8 L803.4,289.7 L805.6,288.5" stroke="#0070e4" stroke-width="5.67"/>
<path d="M805.6,288.5 L807.8,287.4 L810.1,286.3 L812.3,285.2 L814.6,284.1 L816.9,283.0 L819.2,282.0 L821.4,280.9 L823.7,279.9 L826.0,278.8 L828.3,277.8 L830.6,276.8 L833.0,275.8 L835.3,274.9 L837.6,273.9 L839.9,272.9 L842.2,272.0 L844.6,271.1 L846.9,270.2 L849.3,269.3 L851.6,268.4 L853.9,267.5 L856.3,266.6 L858.6,265.8 L860.9,265.0 L863.3,264.1 L865.6,263.3 L868.0,262.5 L870.3,261.7 L872.7,260.9 L875.1,260.2 L877.4,259.4 L879.8,258.6 L882.2,257.9 L884.6,257.1 L887.0,256.4 L889.4,255.6 L891.8,254.9 L894.2,254.2 L896.6,253.5 L899.0,252.7 L901.4,252.1 L903.8,251.4 L906.2,250.7 L908.6,250.0 L911.0,249.3 L913.5,248.7 L915.9,248.0 L918.3,247.4 L920.7,246.7 L923.2,246.1 L925.6,245.4 L928.0,244.8 L930.4,244.2 L932.9,243.6 L935.3,243.0 L937.7,242.4 L940.2,241.8 L942.6,241.2 L945.0,240.7 L947.5,240.1 L949.9,239.5 L952.3,239.0 L954.7,238.4 L957.2,237.9 L959.6,237.4 L962.1,236.8 L964.5,236.3 L966.9,235.8 L969.4,235.3 L971.8,234.8 L974.3,234.3 L976.7,233.8 L979.2,233.3 L981.6,232.9 L984.1,232.4 L986.6,231.9 L989.0,231.4 L991.5,231.0 L993.9,230.5 L996.4,230.1 L998.9,229.6 L1001.3,229.2 L1003.8,228.7 L1006.2,228.3 L1008.7,227.8 L1011.2,227.4 L1013.6,226.9 L1016.1,226.5 L1018.6,226.1 L1021.0,225.6 L1023.5,225.2 L1026.0,224.7 L1028.4,224.3 L1030.9,223.9 L1033.3,223.4 L1035.8,223.0 L1038.3,222.5 L1040.7,222.1 L1043.2,221.6 L1045.6,221.2 L1048.1,220.7 L1050.6,220.3 L1053.0,219.8 L1055.5,219.4 L1057.9,218.9 L1060.4,218.5 L1062.9,218.0 L1065.3,217.6 L1067.8,217.1 L1070.2,216.7 L1072.7,216.2 L1075.2,215.8 L1077.6,215.3 L1080.1,214.9 L1082.5,214.5 L1085.0,214.0 L1087.5,213.6 L1089.9,213.2 L1092.4,212.7 L1094.8,212.3 L1097.3,211.9 L1099.8,211.4 L1102.2,211.0 L1104.7,210.6 L1107.2,210.2 L1109.6,209.7 L1112.1,209.3 L1114.6,208.9 L1117.0,208.5 L1119.5,208.1 L1122.0,207.7 L1124.4,207.3 L1126.9,206.9 L1129.4,206.5 L1131.8,206.1 L1134.3,205.7 L1136.8,205.3 L1139.2,205.0 L1141.7,204.6 L1144.2,204.2 L1146.7,203.8 L1149.1,203.5 L1151.6,203.1 L1154.1,202.7 L1156.5,202.4 L1159.0,202.0 L1161.5,201.6 L1164.0,201.3 L1166.4,200.9 L1168.9,200.6 L1171.4,200.2 L1173.9,199.9 L1176.3,199.5 L1178.8,199.2 L1181.3,198.8 L1183.8,198.5 L1186.2,198.1 L1188.7,197.8 L1191.2,197.4 L1193.7,197.1 L1196.1,196.7 L1198.6,196.4 L1201.1,196.0 L1203.6,195.7 L1206.1,195.3 L1208.5,195.0 L1211.0,194.6 L1213.5,194.2 L1215.9,193.9 L1218.4,193.5 L1220.9,193.2 L1223.4,192.8 L1225.8,192.4 L1228.3,192.1 L1230.8,191.7 L1233.3,191.4 L1235.7,191.0 L1238.2,190.6 L1240.7,190.3 L1243.2,189.9 L1245.6,189.6 L1248.1,189.2 L1250.6,188.8 L1253.1,188.5 L1255.5,188.1 L1258.0,187.8 L1260.5,187.4 L1263.0,187.0 L1265.4,186.7 L1267.9,186.3 L1270.4,186.0 L1272.8,185.6 L1275.3,185.2 L1277.8,184.9 L1280.3,184.5 L1282.7,184.1 L1285.2,183.8 L1287.7,183.4 L1290.2,183.1 L1292.6,182.7 L1295.1,182.3 L1297.6,182.0 L1300.1,181.6 L1302.5,181.2 L1305.0,180.8 L1307.5,180.5 L1310.0,180.2 L1312.4,180.0 L1314.9,179.7 L1317.4,179.5 L1319.9,179.3 L1322.4,179.1 L1324.9,179.0 L1327.4,178.8 L1329.9,178.7 L1332.4,178.6 L1334.9,178.6 L1335.6,178.6" stroke="#0070e4" stroke-width="5.70"/>
<path d="M1335.6,178.6 L1335.7,268.8" stroke="#0070e4" stroke-width="6.2"/>
<path d="M238.0,1154.2 L240.1,1152.8 L242.1,1151.3 L244.1,1149.7 L246.0,1148.1 L247.9,1146.5 L249.7,1144.8 L251.5,1143.1 L253.2,1141.3 L254.9,1139.4 L256.6,1137.6" stroke="#00b46e" stroke-width="5.02"/>
<path d="M256.6,1137.6 L258.2,1135.7 L259.8,1133.8 L261.4,1131.8 L263.0,1129.9 L264.5,1127.9 L266.0,1125.9 L267.5,1123.9 L269.0,1121.9 L270.5,1119.9 L272.0,1117.9" stroke="#00b46e" stroke-width="4.71"/>
<path d="M272.0,1117.9 L273.5,1115.9 L275.0,1113.9 L276.4,1111.8 L277.9,1109.8 L279.3,1107.8 L280.8,1105.7 L282.2,1103.6 L283.6,1101.6 L285.0,1099.5 L286.4,1097.4 L287.8,1095.4 L289.1,1093.3 L290.5,1091.2 L291.9,1089.1 L293.2,1087.0 L294.6,1084.9 L296.0,1082.8 L297.3,1080.7 L298.6,1078.6 L300.0,1076.5 L301.3,1074.4 L302.6,1072.2 L304.0,1070.1 L305.3,1068.0 L306.6,1065.9 L307.9,1063.7 L309.2,1061.6 L310.5,1059.5 L311.8,1057.3 L313.1,1055.2 L314.4,1053.0 L315.7,1050.9 L317.0,1048.7 L318.3,1046.6 L319.5,1044.5 L320.8,1042.3 L322.1,1040.2 L323.4,1038.0 L324.6,1035.9 L325.9,1033.7 L327.1,1031.5 L328.4,1029.4 L329.6,1027.2 L330.9,1025.0 L332.1,1022.8 L333.3,1020.7 L334.6,1018.5 L335.8,1016.3 L337.0,1014.1 L338.2,1011.9 L339.4,1009.8 L340.7,1007.6 L341.9,1005.4 L343.1,1003.2 L344.3,1001.0 L345.5,998.8 L346.7,996.7 L348.0,994.5 L349.2,992.3 L350.4,990.1 L351.6,987.9 L352.8,985.7 L354.0,983.5 L355.2,981.4 L356.4,979.2 L357.6,977.0 L358.8,974.8 L360.0,972.6 L361.3,970.4 L362.5,968.2 L363.7,966.0 L364.9,963.8 L366.1,961.6 L367.3,959.4 L368.5,957.2 L369.7,955.0 L370.9,952.9 L372.1,950.7 L373.3,948.5 L374.5,946.3 L375.6,944.1 L376.8,941.9 L378.0,939.7 L379.2,937.5 L380.4,935.3 L381.6,933.1 L382.8,930.9 L384.0,928.7 L385.2,926.5 L386.4,924.3 L387.6,922.1 L388.8,919.9 L390.0,917.7 L391.2,915.5 L392.4,913.3 L393.6,911.1 L394.7,908.9 L395.9,906.7 L397.1,904.5 L398.3,902.3 L399.5,900.1 L400.7,897.9 L401.9,895.7 L403.1,893.5 L404.3,891.3 L405.5,889.1 L406.7,887.0 L407.8,884.8 L409.0,882.6 L410.2,880.4 L411.4,878.2 L412.6,876.0 L413.8,873.8 L415.0,871.6 L416.2,869.4 L417.4,867.2 L418.6,865.0 L419.7,862.8 L420.9,860.6 L422.1,858.4 L423.3,856.2 L424.5,854.0 L425.7,851.8 L426.9,849.6 L428.1,847.4 L429.3,845.2 L430.5,843.0 L431.7,840.8 L432.9,838.6 L434.1,836.4 L435.3,834.2 L436.5,832.0 L437.7,829.8 L438.8,827.6 L440.0,825.4 L441.2,823.2 L442.4,821.0 L443.6,818.8 L444.8,816.6 L446.0,814.5 L447.2,812.3 L448.4,810.1 L449.6,807.9 L450.9,805.7 L452.1,803.5 L453.3,801.3 L454.5,799.1 L455.7,796.9 L456.9,794.8 L458.1,792.6 L459.3,790.4 L460.6,788.2 L461.8,786.0 L463.0,783.8 L464.2,781.6 L465.4,779.5 L466.6,777.3 L467.8,775.1 L469.1,772.9 L470.3,770.7 L471.5,768.5 L472.7,766.4 L473.9,764.2 L475.2,762.0 L476.4,759.8 L477.6,757.6 L478.8,755.5 L480.1,753.3 L481.3,751.1 L482.5,748.9 L483.7,746.7 L485.0,744.6 L486.2,742.4 L487.4,740.2 L488.7,738.0 L489.9,735.9 L491.1,733.7 L492.4,731.5 L493.6,729.3 L494.9,727.2 L496.1,725.0 L497.4,722.8 L498.6,720.7 L499.9,718.5 L501.1,716.4 L502.4,714.2 L503.6,712.0 L504.9,709.9 L506.1,707.7 L507.4,705.6 L508.7,703.4 L509.9,701.3 L511.2,699.1 L512.5,696.9 L513.8,694.8 L515.0,692.6 L516.3,690.5 L517.6,688.3 L518.9,686.2 L520.1,684.0 L521.4,681.9 L522.7,679.7 L524.0,677.6 L525.3,675.4 L526.5,673.3 L527.8,671.2 L529.1,669.0 L530.4,666.9 L531.7,664.7 L533.0,662.6 L534.3,660.4 L535.6,658.3 L536.9,656.2 L538.2,654.0 L539.5,651.9 L540.8,649.7 L542.1,647.6 L543.4,645.5 L544.7,643.4 L546.0,641.2 L547.3,639.1 L548.7,637.0 L550.0,634.9 L551.3,632.7 L552.6,630.6 L554.0,628.5 L555.3,626.4 L556.6,624.3 L558.0,622.2 L559.3,620.0 L560.7,617.9 L562.0,615.8 L563.4,613.7 L564.7,611.6 L566.1,609.5 L567.4,607.5 L568.8,605.4 L570.2,603.3 L571.6,601.2 L572.9,599.1 L574.3,597.0 L575.7,594.9 L577.1,592.9 L578.4,590.8 L579.8,588.7 L581.2,586.6 L582.6,584.5 L584.0,582.4 L585.4,580.3 L586.8,578.2 L588.2,576.2 L589.6,574.1 L590.9,572.0 L592.3,569.9 L593.7,567.8 L595.2,565.7 L596.6,563.7 L598.0,561.6 L599.4,559.5 L600.8,557.4 L602.2,555.4 L603.7,553.3 L605.1,551.2 L606.5,549.2 L608.0,547.1 L609.4,545.1 L610.8,543.0 L612.3,541.0 L613.8,538.9 L615.2,536.9 L616.7,534.9 L618.2,532.8 L619.6,530.8 L621.1,528.8 L622.6,526.8 L624.1,524.8 L625.6,522.8 L627.1,520.8 L628.6,518.8 L630.1,516.9 L631.7,514.9 L633.2,512.9 L634.7,511.0 L636.3,509.0 L637.8,507.1 L639.4,505.2 L641.0,503.2 L642.6,501.3 L644.1,499.4 L645.7,497.5 L647.3,495.6 L648.9,493.7 L650.6,491.9 L652.2,490.0 L653.8,488.1 L655.4,486.2 L657.1,484.3 L658.7,482.4 L660.4,480.5 L662.0,478.6" stroke="#00b46e" stroke-width="4.70"/>
<path d="M662.0,478.6 L663.7,476.8 L665.4,474.9 L667.0,473.0 L668.7,471.2 L670.4,469.3 L672.1,467.4 L673.8,465.6 L675.5,463.7 L677.2,461.9 L678.9,460.0" stroke="#00b46e" stroke-width="4.77"/>
<path d="M678.9,460.0 L680.7,458.2 L682.4,456.4 L684.1,454.5 L685.9,452.7 L687.6,450.9 L689.4,449.1 L691.2,447.3 L692.9,445.5 L694.7,443.7 L696.5,441.9" stroke="#00b46e" stroke-width="4.82"/>
<path d="M696.5,441.9 L698.3,440.1 L700.1,438.4 L701.9,436.6 L703.7,434.9 L705.5,433.1 L707.3,431.4 L709.1,429.7 L710.9,427.9 L712.8,426.2 L714.6,424.5" stroke="#00b46e" stroke-width="4.90"/>
<path d="M714.6,424.5 L716.5,422.8 L718.3,421.1 L720.2,419.5 L722.0,417.8 L723.9,416.1 L725.8,414.5 L727.7,412.9 L729.5,411.2 L731.4,409.6 L733.3,408.0" stroke="#00b46e" stroke-width="5.01"/>
<path d="M733.3,408.0 L735.2,406.4 L737.1,404.9 L739.1,403.3 L741.0,401.7 L742.9,400.2 L744.8,398.7 L746.8,397.1 L748.8,395.6 L750.8,394.1 L752.8,392.6" stroke="#00b46e" stroke-width="5.16"/>
<path d="M752.8,392.6 L754.8,391.1 L756.8,389.7 L758.8,388.2 L760.9,386.8 L763.0,385.3 L765.1,383.9 L767.2,382.5 L769.3,381.1 L771.4,379.7 L773.5,378.4" stroke="#00b46e" stroke-width="5.37"/>
<path d="M773.5,378.4 L775.6,377.1 L777.8,375.8 L779.9,374.5 L782.1,373.2 L784.2,372.0 L786.4,370.7 L788.5,369.5 L790.7,368.4 L792.9,367.2 L795.1,366.0" stroke="#00b46e" stroke-width="5.55"/>
<path d="M795.1,366.0 L797.3,364.9 L799.5,363.7 L801.8,362.6 L804.0,361.5 L806.2,360.4 L808.5,359.3 L810.7,358.2 L813.0,357.1 L815.3,356.1 L817.6,355.0 L819.8,354.0 L822.1,352.9 L824.4,351.9 L826.7,350.9 L829.0,349.9 L831.3,348.9 L833.7,347.9 L836.0,346.9 L838.3,346.0 L840.6,345.0 L842.9,344.1 L845.3,343.1 L847.6,342.2 L849.9,341.3 L852.3,340.4 L854.6,339.5 L856.9,338.6 L859.3,337.8 L861.6,336.9 L863.9,336.1 L866.3,335.2 L868.6,334.4 L871.0,333.5 L873.3,332.7 L875.7,331.9 L878.0,331.1 L880.4,330.3 L882.8,329.5 L885.1,328.7 L887.5,327.9 L889.9,327.1 L892.3,326.4 L894.7,325.6 L897.1,324.8 L899.4,324.1 L901.8,323.3 L904.2,322.6 L906.6,321.9 L909.0,321.1 L911.4,320.4 L913.8,319.7 L916.2,319.0 L918.6,318.3 L921.1,317.6 L923.5,316.9 L925.9,316.2 L928.3,315.6 L930.7,314.9 L933.1,314.2 L935.5,313.6 L937.9,312.9 L940.3,312.2 L942.8,311.6 L945.2,311.0 L947.6,310.3 L950.0,309.7 L952.4,309.1 L954.8,308.5 L957.3,307.8 L959.7,307.2 L962.1,306.6 L964.5,306.0 L967.0,305.5 L969.4,304.9 L971.8,304.3 L974.3,303.7 L976.7,303.2 L979.1,302.6 L981.6,302.0 L984.0,301.5 L986.4,300.9 L988.9,300.4 L991.3,299.8 L993.8,299.3 L996.2,298.8 L998.7,298.2 L1001.1,297.7 L1003.5,297.2 L1006.0,296.6 L1008.4,296.1 L1010.9,295.6 L1013.3,295.1 L1015.8,294.6 L1018.2,294.1 L1020.7,293.6 L1023.1,293.1 L1025.6,292.5 L1028.0,292.0 L1030.5,291.5 L1032.9,291.0 L1035.4,290.5 L1037.8,290.0 L1040.3,289.5 L1042.7,289.0 L1045.2,288.6 L1047.6,288.1 L1050.1,287.6 L1052.5,287.1 L1055.0,286.6 L1057.4,286.2 L1059.9,285.7 L1062.4,285.2 L1064.8,284.8 L1067.3,284.3 L1069.7,283.8 L1072.2,283.4 L1074.6,282.9 L1077.1,282.5 L1079.6,282.0 L1082.0,281.6 L1084.5,281.1 L1086.9,280.7 L1089.4,280.2 L1091.9,279.8 L1094.3,279.3 L1096.8,278.9 L1099.2,278.4 L1101.7,278.0 L1104.2,277.5 L1106.6,277.1 L1109.1,276.6 L1111.5,276.2 L1114.0,275.7 L1116.5,275.3 L1118.9,274.8 L1121.4,274.4 L1123.8,273.9 L1126.3,273.5 L1128.8,273.0 L1131.2,272.6 L1133.7,272.1 L1136.1,271.7 L1138.6,271.2 L1141.0,270.7 L1143.5,270.3 L1146.0,269.8 L1148.4,269.3 L1150.9,268.9 L1153.3,268.4 L1155.8,267.9 L1158.2,267.4 L1160.7,267.0 L1163.1,266.5 L1165.6,266.0 L1168.1,265.6 L1170.5,265.1 L1173.0,264.6 L1175.4,264.2 L1177.9,263.7 L1180.3,263.2 L1182.8,262.8 L1185.3,262.3 L1187.7,261.8 L1190.2,261.4 L1192.6,260.9 L1195.1,260.5 L1197.5,260.0 L1200.0,259.6 L1202.5,259.1 L1204.9,258.7 L1207.4,258.2 L1209.8,257.8 L1212.3,257.3 L1214.8,256.9 L1217.2,256.5 L1219.7,256.1 L1222.1,255.6 L1224.6,255.2 L1227.1,254.8 L1229.5,254.4 L1232.0,254.0 L1234.5,253.6 L1236.9,253.2 L1239.4,252.8 L1241.9,252.4 L1244.3,252.0 L1246.8,251.6 L1249.3,251.2 L1251.7,250.8 L1254.2,250.4 L1256.7,250.0 L1259.2,249.6 L1261.6,249.2 L1264.1,248.8 L1266.6,248.4 L1269.0,248.0 L1271.5,247.7 L1274.0,247.3 L1276.4,246.9 L1278.9,246.5 L1281.4,246.1 L1283.9,245.7 L1286.3,245.3 L1288.8,244.9 L1291.3,244.5 L1293.7,244.1 L1296.2,243.7 L1298.7,243.3 L1301.1,242.9 L1303.6,242.5 L1306.1,242.2 L1308.5,241.8 L1311.0,241.5 L1313.5,241.2 L1316.0,240.9 L1318.5,240.6 L1321.0,240.3 L1323.4,240.0 L1325.9,239.7 L1328.4,239.4 L1330.9,239.2 L1333.4,238.9 L1335.9,238.7 L1338.4,238.4 L1340.9,238.2 L1343.3,238.0 L1345.8,237.7 L1348.3,237.5 L1350.8,237.3 L1353.3,237.1 L1355.8,236.9 L1358.3,236.7 L1360.8,236.5 L1363.3,236.3 L1365.8,236.1 L1368.3,235.9 L1370.7,235.7 L1373.2,235.6 L1375.7,235.4 L1378.2,235.2 L1380.7,235.1 L1383.2,234.9 L1385.7,234.8 L1388.2,234.6 L1390.7,234.5 L1393.2,234.3 L1395.7,234.2 L1398.2,234.1 L1400.7,234.0 L1402.0,233.9" stroke="#00b46e" stroke-width="5.60"/>
<path d="M1402.0,233.9 L1402.0,322.2" stroke="#00b46e" stroke-width="6.0"/>
<path d="M229.9,1154.2 L231.9,1152.6 L233.8,1151.1 L235.7,1149.4 L237.6,1147.8 L239.4,1146.1 L241.2,1144.4 L243.0,1142.6 L244.7,1140.8 L246.5,1139.0 L248.2,1137.2 L249.8,1135.3 L251.5,1133.4 L253.1,1131.5 L254.7,1129.6 L256.3,1127.6 L257.8,1125.7 L259.3,1123.7 L260.9,1121.7 L262.4,1119.7 L263.8,1117.7 L265.3,1115.7 L266.8,1113.6 L268.2,1111.6 L269.6,1109.5 L271.0,1107.5 L272.4,1105.4 L273.8,1103.3 L275.1,1101.2 L276.4,1099.1 L277.7,1096.9 L279.0,1094.8 L280.3,1092.7 L281.5,1090.5 L282.8,1088.4 L284.0,1086.2 L285.2,1084.0 L286.5,1081.9 L287.7,1079.7 L288.9,1077.5 L290.0,1075.3 L291.2,1073.1 L292.4,1070.9 L293.6,1068.7 L294.7,1066.4 L295.9,1064.2 L297.0,1062.0 L298.2,1059.8 L299.3,1057.5 L300.4,1055.3 L301.5,1053.1 L302.7,1050.8 L303.8,1048.6 L304.9,1046.4 L306.0,1044.1 L307.1,1041.9 L308.3,1039.6 L309.4,1037.4 L310.5,1035.1 L311.6,1032.9 L312.7,1030.6 L313.8,1028.4 L314.9,1026.1 L316.1,1023.9 L317.2,1021.6 L318.3,1019.4 L319.4,1017.2 L320.6,1014.9 L321.7,1012.7 L322.8,1010.5 L324.0,1008.2 L325.1,1006.0 L326.3,1003.8 L327.5,1001.6 L328.6,999.4 L329.8,997.2 L331.0,995.0 L332.2,992.8 L333.4,990.6 L334.5,988.4 L335.7,986.2 L336.9,984.0 L338.1,981.8 L339.3,979.6 L340.5,977.4 L341.7,975.2 L342.8,973.0 L344.0,970.8 L345.2,968.6 L346.4,966.4 L347.6,964.2 L348.8,962.0 L350.0,959.8 L351.2,957.6 L352.4,955.4 L353.6,953.2 L354.8,951.0 L356.0,948.8 L357.2,946.6 L358.4,944.4 L359.6,942.2 L360.8,940.0 L362.0,937.8 L363.2,935.6 L364.4,933.4 L365.6,931.2 L366.8,929.1 L368.0,926.9 L369.2,924.7 L370.4,922.5 L371.6,920.3 L372.8,918.1 L374.0,915.9 L375.2,913.7 L376.4,911.5 L377.6,909.3 L378.8,907.2 L380.0,905.0 L381.2,902.8 L382.4,900.6 L383.7,898.4 L384.9,896.2 L386.1,894.0 L387.3,891.9 L388.5,889.7 L389.8,887.5 L391.0,885.3 L392.2,883.1 L393.4,881.0 L394.7,878.8 L395.9,876.6 L397.1,874.4 L398.4,872.3 L399.6,870.1 L400.8,867.9 L402.1,865.7 L403.3,863.6 L404.5,861.4 L405.8,859.2 L407.0,857.0 L408.2,854.9 L409.5,852.7 L410.7,850.5 L411.9,848.3 L413.2,846.2 L414.4,844.0 L415.7,841.8 L416.9,839.6 L418.1,837.5 L419.4,835.3 L420.6,833.1 L421.8,830.9 L423.0,828.8 L424.3,826.6 L425.5,824.4 L426.7,822.2 L428.0,820.1 L429.2,817.9 L430.4,815.7 L431.6,813.5 L432.8,811.3 L434.0,809.1 L435.2,807.0 L436.5,804.8 L437.7,802.6 L438.9,800.4 L440.1,798.2 L441.3,796.0 L442.5,793.8 L443.7,791.6 L444.9,789.4 L446.1,787.2 L447.3,785.0 L448.4,782.8 L449.6,780.6 L450.8,778.4 L452.0,776.2 L453.2,774.0 L454.4,771.8 L455.6,769.6 L456.8,767.4 L458.0,765.2 L459.2,763.0 L460.3,760.8 L461.5,758.6 L462.7,756.4 L463.9,754.2 L465.1,752.0 L466.2,749.8 L467.4,747.6 L468.6,745.4 L469.8,743.2 L470.9,741.0 L472.1,738.8 L473.3,736.6 L474.5,734.4 L475.6,732.1 L476.8,729.9 L478.0,727.7 L479.1,725.5 L480.3,723.3 L481.4,721.1 L482.6,718.9 L483.8,716.7 L484.9,714.4 L486.1,712.2 L487.2,710.0 L488.4,707.8 L489.5,705.6 L490.7,703.3 L491.8,701.1 L493.0,698.9 L494.1,696.7 L495.2,694.4 L496.4,692.2 L497.5,690.0 L498.6,687.8 L499.7,685.5 L500.9,683.3 L502.0,681.1 L503.1,678.8 L504.2,676.6 L505.3,674.3 L506.4,672.1 L507.6,669.9 L508.7,667.6 L509.8,665.4 L510.9,663.1 L512.0,660.9 L513.1,658.7 L514.2,656.4 L515.3,654.2 L516.4,651.9 L517.5,649.7 L518.6,647.4 L519.7,645.2 L520.8,642.9 L521.9,640.7 L523.0,638.4 L524.1,636.2 L525.2,634.0 L526.3,631.7 L527.4,629.5 L528.5,627.2 L529.6,625.0 L530.7,622.7 L531.8,620.5 L533.0,618.3 L534.1,616.0 L535.2,613.8 L536.3,611.6 L537.4,609.3 L538.6,607.1 L539.7,604.9 L540.8,602.6 L542.0,600.4 L543.1,598.2 L544.2,596.0 L545.4,593.7 L546.5,591.5 L547.7,589.3 L548.8,587.1 L550.0,584.9 L551.1,582.7 L552.3,580.4 L553.5,578.2 L554.6,576.0 L555.8,573.8 L556.9,571.6 L558.1,569.4 L559.3,567.2 L560.4,564.9 L561.6,562.7 L562.8,560.5 L563.9,558.3 L565.1,556.1 L566.3,553.9 L567.4,551.7 L568.6,549.5 L569.8,547.3 L571.0,545.1 L572.1,542.9 L573.3,540.6 L574.5,538.4 L575.7,536.2 L576.8,534.0 L578.0,531.8 L579.2,529.6 L580.4,527.4 L581.5,525.2 L582.7,523.0 L583.9,520.8 L585.0,518.6 L586.2,516.4 L587.4,514.1 L588.6,511.9 L589.7,509.7 L590.9,507.5 L592.1,505.3 L593.2,503.1 L594.4,500.9 L595.6,498.7 L596.7,496.5 L597.9,494.2 L599.1,492.0 L600.2,489.8 L601.4,487.6 L602.6,485.4 L603.7,483.2 L604.9,481.0 L606.1,478.8 L607.3,476.6 L608.4,474.4 L609.6,472.2 L610.8,469.9 L611.9,467.7 L613.1,465.5 L614.3,463.3 L615.5,461.1 L616.6,458.9 L617.8,456.7 L619.0,454.5 L620.2,452.3 L621.3,450.1 L622.5,447.9 L623.7,445.7 L624.8,443.4 L626.0,441.2 L627.2,439.0 L628.3,436.8 L629.5,434.6 L630.7,432.4 L631.8,430.2 L633.0,427.9 L634.1,425.7 L635.3,423.5 L636.4,421.3 L637.6,419.1 L638.7,416.9 L639.9,414.6 L641.0,412.4 L642.2,410.2 L643.3,408.0 L644.4,405.7 L645.6,403.5 L646.7,401.3 L647.8,399.0 L648.9,396.8 L650.0,394.6 L651.2,392.3 L652.3,390.1 L653.4,387.9 L654.5,385.6 L655.6,383.4 L656.7,381.1 L657.8,378.9 L658.9,376.6 L660.0,374.4 L661.1,372.1 L662.1,369.9 L663.2,367.6 L664.3,365.4 L665.4,363.1 L666.5,360.9 L667.6,358.6 L667.6,358.5 L669.1,356.4 L670.5,354.3 L672.0,352.1 L673.4,350.0 L674.9,347.9 L676.4,345.8 L677.8,343.6 L679.3,341.5 L680.7,339.4 L682.2,337.3 L683.7,335.2 L685.1,333.0 L686.6,330.9 L688.0,328.8 L689.5,326.7 L691.0,324.6 L692.4,322.4 L693.9,320.3 L695.3,318.2 L696.8,316.1 L698.2,313.9 L699.7,311.8 L701.2,309.7 L702.6,307.6 L704.1,305.5 L705.5,303.3 L707.0,301.2 L708.5,299.1 L709.9,297.0 L711.4,294.8 L712.8,292.7 L714.3,290.6" stroke="#c070e8" stroke-width="3.90"/>
<path d="M714.5,290.8 L715.0,390.4" stroke="#c070e8" stroke-width="5.6"/>
</g>
<g fill="none" stroke-linecap="round">
<line x1="1079.5" y1="534" x2="1208" y2="534" stroke="#ff3b3b" stroke-width="5.8"/>
<line x1="1079.5" y1="605.5" x2="1208" y2="605.5" stroke="#0070e4" stroke-width="6.0"/>
<line x1="1079.5" y1="677.3" x2="1208" y2="677.3" stroke="#484848" stroke-width="5.6"/>
<line x1="1079.5" y1="747.5" x2="1208" y2="747.5" stroke="#00b46e" stroke-width="6.0"/>
<line x1="1079.5" y1="819.2" x2="1208" y2="819.2" stroke="#c070e8" stroke-width="5.2"/>
</g>
<text class="leg" transform="translate(1226.0,553.5) scale(1.0,1.045)">1300</text>
<text class="leg" transform="translate(1226.0,625.0) scale(1.0,1.045)">1350</text>
<text class="leg" transform="translate(1226.0,696.8) scale(1.0,1.045)">1400</text>
<text class="leg" transform="translate(1226.0,767.0) scale(1.0,1.045)">1450</text>
<text class="leg" transform="translate(1223.0,838.7) scale(1.03,1.07)">CCLM</text>
<text class="tick" text-anchor="middle" transform="translate(229.8,1227.5) scale(1.0,1.045)">0</text>
<text class="tick" text-anchor="middle" transform="translate(414.2,1227.5) scale(1.0,1.045)">5</text>
<text class="tick" text-anchor="middle" transform="translate(598.6,1227.5) scale(1.0,1.045)">10</text>
<text class="tick" text-anchor="middle" transform="translate(783.0,1227.5) scale(1.0,1.045)">15</text>
<text class="tick" text-anchor="middle" transform="translate(967.4,1227.5) scale(1.0,1.045)">20</text>
<text class="tick" text-anchor="middle" transform="translate(1151.8,1227.5) scale(1.0,1.045)">25</text>
<text class="tick" text-anchor="middle" transform="translate(1336.2,1227.5) scale(1.0,1.045)">30</text>
<text class="tick" text-anchor="middle" transform="translate(1520.6,1227.5) scale(1.0,1.045)">35</text>
<text class="tick" text-anchor="end" transform="translate(191.0,1167.2) scale(1.0,1.045)">0</text>
<text class="tick" text-anchor="end" transform="translate(191.0,944.3) scale(1.0,1.045)">500</text>
<text class="tick" text-anchor="end" transform="translate(191.0,721.4) scale(1.0,1.045)">1000</text>
<text class="tick" text-anchor="end" transform="translate(191.0,498.6) scale(1.0,1.045)">1500</text>
<text class="tick" text-anchor="end" transform="translate(191.0,275.7) scale(1.0,1.045)">2000</text>
<text class="tick" text-anchor="end" transform="translate(191.0,52.8) scale(1.0,1.045)">2500</text>
<text class="lab" text-anchor="middle" transform="translate(921.5,1320.0) scale(1.0,1.01)">Compressive strain (%)</text>
<text class="lab" text-anchor="middle" transform="translate(74.0,595.5) rotate(-90) scale(1.0,1.0)">Compressive strength (MPa)</text>
</g>
</svg></body></html>
